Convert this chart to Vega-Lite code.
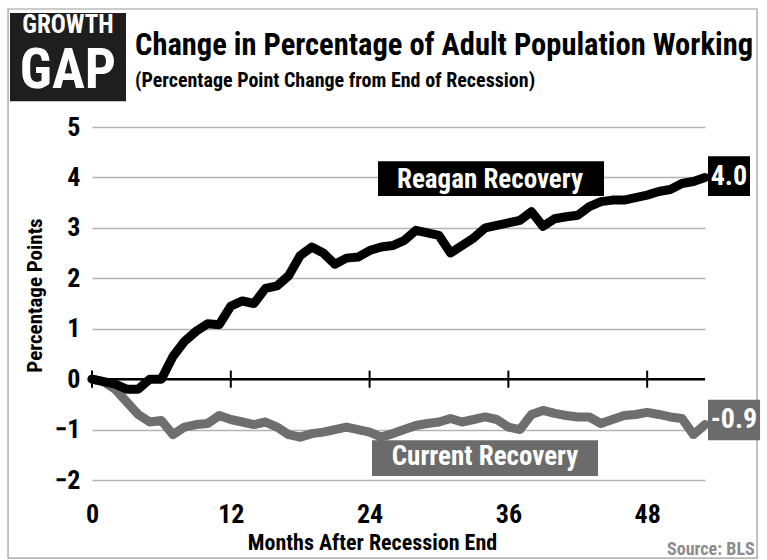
{
  "$schema": "https://vega.github.io/schema/vega-lite/v6.json",
  "width": 613,
  "height": 353,
  "autosize": {"type": "none"},
  "padding": {"left": 92, "top": 127, "right": 62, "bottom": 80},
  "background": "white",
  "data": {"values": [{}]},
  "config": {
    "view": {"stroke": null},
    "font": "'Roboto Condensed', 'DejaVu Sans Condensed', 'Liberation Sans', sans-serif",
    "text": {"font": "'Roboto Condensed', 'DejaVu Sans Condensed', 'Liberation Sans', sans-serif", "fontWeight": "bold"}
  },
  "datasets": {
    "series": [
      {"month": 0, "value": 0.0, "series": "Current Recovery"},
      {"month": 1, "value": -0.05, "series": "Current Recovery"},
      {"month": 2, "value": -0.2, "series": "Current Recovery"},
      {"month": 3, "value": -0.45, "series": "Current Recovery"},
      {"month": 4, "value": -0.7, "series": "Current Recovery"},
      {"month": 5, "value": -0.85, "series": "Current Recovery"},
      {"month": 6, "value": -0.82, "series": "Current Recovery"},
      {"month": 7, "value": -1.1, "series": "Current Recovery"},
      {"month": 8, "value": -0.95, "series": "Current Recovery"},
      {"month": 9, "value": -0.9, "series": "Current Recovery"},
      {"month": 10, "value": -0.88, "series": "Current Recovery"},
      {"month": 11, "value": -0.72, "series": "Current Recovery"},
      {"month": 12, "value": -0.8, "series": "Current Recovery"},
      {"month": 13, "value": -0.85, "series": "Current Recovery"},
      {"month": 14, "value": -0.9, "series": "Current Recovery"},
      {"month": 15, "value": -0.85, "series": "Current Recovery"},
      {"month": 16, "value": -0.95, "series": "Current Recovery"},
      {"month": 17, "value": -1.1, "series": "Current Recovery"},
      {"month": 18, "value": -1.15, "series": "Current Recovery"},
      {"month": 19, "value": -1.08, "series": "Current Recovery"},
      {"month": 20, "value": -1.05, "series": "Current Recovery"},
      {"month": 21, "value": -1.0, "series": "Current Recovery"},
      {"month": 22, "value": -0.95, "series": "Current Recovery"},
      {"month": 23, "value": -1.0, "series": "Current Recovery"},
      {"month": 24, "value": -1.05, "series": "Current Recovery"},
      {"month": 25, "value": -1.15, "series": "Current Recovery"},
      {"month": 26, "value": -1.08, "series": "Current Recovery"},
      {"month": 27, "value": -1.0, "series": "Current Recovery"},
      {"month": 28, "value": -0.92, "series": "Current Recovery"},
      {"month": 29, "value": -0.88, "series": "Current Recovery"},
      {"month": 30, "value": -0.85, "series": "Current Recovery"},
      {"month": 31, "value": -0.78, "series": "Current Recovery"},
      {"month": 32, "value": -0.85, "series": "Current Recovery"},
      {"month": 33, "value": -0.8, "series": "Current Recovery"},
      {"month": 34, "value": -0.75, "series": "Current Recovery"},
      {"month": 35, "value": -0.8, "series": "Current Recovery"},
      {"month": 36, "value": -0.95, "series": "Current Recovery"},
      {"month": 37, "value": -1.0, "series": "Current Recovery"},
      {"month": 38, "value": -0.7, "series": "Current Recovery"},
      {"month": 39, "value": -0.62, "series": "Current Recovery"},
      {"month": 40, "value": -0.68, "series": "Current Recovery"},
      {"month": 41, "value": -0.72, "series": "Current Recovery"},
      {"month": 42, "value": -0.75, "series": "Current Recovery"},
      {"month": 43, "value": -0.75, "series": "Current Recovery"},
      {"month": 44, "value": -0.88, "series": "Current Recovery"},
      {"month": 45, "value": -0.8, "series": "Current Recovery"},
      {"month": 46, "value": -0.72, "series": "Current Recovery"},
      {"month": 47, "value": -0.7, "series": "Current Recovery"},
      {"month": 48, "value": -0.66, "series": "Current Recovery"},
      {"month": 49, "value": -0.7, "series": "Current Recovery"},
      {"month": 50, "value": -0.75, "series": "Current Recovery"},
      {"month": 51, "value": -0.78, "series": "Current Recovery"},
      {"month": 52, "value": -1.1, "series": "Current Recovery"},
      {"month": 53, "value": -0.9, "series": "Current Recovery"},
      {"month": 0, "value": 0.0, "series": "Reagan Recovery"},
      {"month": 1, "value": -0.05, "series": "Reagan Recovery"},
      {"month": 2, "value": -0.1, "series": "Reagan Recovery"},
      {"month": 3, "value": -0.2, "series": "Reagan Recovery"},
      {"month": 4, "value": -0.2, "series": "Reagan Recovery"},
      {"month": 5, "value": 0.0, "series": "Reagan Recovery"},
      {"month": 6, "value": 0.0, "series": "Reagan Recovery"},
      {"month": 7, "value": 0.45, "series": "Reagan Recovery"},
      {"month": 8, "value": 0.75, "series": "Reagan Recovery"},
      {"month": 9, "value": 0.95, "series": "Reagan Recovery"},
      {"month": 10, "value": 1.1, "series": "Reagan Recovery"},
      {"month": 11, "value": 1.08, "series": "Reagan Recovery"},
      {"month": 12, "value": 1.45, "series": "Reagan Recovery"},
      {"month": 13, "value": 1.55, "series": "Reagan Recovery"},
      {"month": 14, "value": 1.5, "series": "Reagan Recovery"},
      {"month": 15, "value": 1.8, "series": "Reagan Recovery"},
      {"month": 16, "value": 1.85, "series": "Reagan Recovery"},
      {"month": 17, "value": 2.05, "series": "Reagan Recovery"},
      {"month": 18, "value": 2.45, "series": "Reagan Recovery"},
      {"month": 19, "value": 2.62, "series": "Reagan Recovery"},
      {"month": 20, "value": 2.5, "series": "Reagan Recovery"},
      {"month": 21, "value": 2.28, "series": "Reagan Recovery"},
      {"month": 22, "value": 2.4, "series": "Reagan Recovery"},
      {"month": 23, "value": 2.42, "series": "Reagan Recovery"},
      {"month": 24, "value": 2.55, "series": "Reagan Recovery"},
      {"month": 25, "value": 2.62, "series": "Reagan Recovery"},
      {"month": 26, "value": 2.65, "series": "Reagan Recovery"},
      {"month": 27, "value": 2.75, "series": "Reagan Recovery"},
      {"month": 28, "value": 2.95, "series": "Reagan Recovery"},
      {"month": 29, "value": 2.9, "series": "Reagan Recovery"},
      {"month": 30, "value": 2.85, "series": "Reagan Recovery"},
      {"month": 31, "value": 2.5, "series": "Reagan Recovery"},
      {"month": 32, "value": 2.65, "series": "Reagan Recovery"},
      {"month": 33, "value": 2.8, "series": "Reagan Recovery"},
      {"month": 34, "value": 3.0, "series": "Reagan Recovery"},
      {"month": 35, "value": 3.05, "series": "Reagan Recovery"},
      {"month": 36, "value": 3.1, "series": "Reagan Recovery"},
      {"month": 37, "value": 3.15, "series": "Reagan Recovery"},
      {"month": 38, "value": 3.32, "series": "Reagan Recovery"},
      {"month": 39, "value": 3.03, "series": "Reagan Recovery"},
      {"month": 40, "value": 3.18, "series": "Reagan Recovery"},
      {"month": 41, "value": 3.22, "series": "Reagan Recovery"},
      {"month": 42, "value": 3.25, "series": "Reagan Recovery"},
      {"month": 43, "value": 3.42, "series": "Reagan Recovery"},
      {"month": 44, "value": 3.52, "series": "Reagan Recovery"},
      {"month": 45, "value": 3.55, "series": "Reagan Recovery"},
      {"month": 46, "value": 3.55, "series": "Reagan Recovery"},
      {"month": 47, "value": 3.6, "series": "Reagan Recovery"},
      {"month": 48, "value": 3.65, "series": "Reagan Recovery"},
      {"month": 49, "value": 3.72, "series": "Reagan Recovery"},
      {"month": 50, "value": 3.76, "series": "Reagan Recovery"},
      {"month": 51, "value": 3.88, "series": "Reagan Recovery"},
      {"month": 52, "value": 3.92, "series": "Reagan Recovery"},
      {"month": 53, "value": 4.0, "series": "Reagan Recovery"}
    ],
    "ticks": [
      {"month": 0}, {"month": 12}, {"month": 24}, {"month": 36}, {"month": 48}
    ]
  },
  "layer": [
    {
      "data": {"name": "series"},
      "mark": {"type": "line", "opacity": 0},
      "encoding": {
        "x": {
          "field": "month", "type": "quantitative",
          "scale": {"domain": [0, 53], "nice": false, "zero": false},
          "axis": {
            "values": [0, 12, 24, 36, 48],
            "title": "Months After Recession End",
            "grid": false, "ticks": false, "domain": false,
            "labelFontSize": 26, "labelFontWeight": "bold", "labelColor": "#000000",
            "labelPadding": 21, "labelFlush": false,
            "titleFontSize": 22, "titleFontWeight": "bold", "titleColor": "#000000",
            "titleX": 280, "titleY": 52, "titleAlign": "center", "titleBaseline": "top"
          }
        },
        "y": {
          "field": "value", "type": "quantitative",
          "scale": {"domain": [-2, 5], "nice": false, "zero": false},
          "axis": {
            "values": [-2, -1, 0, 1, 2, 3, 4, 5],
            "title": "Percentage Points",
            "grid": true, "gridColor": "#b3b3b3", "gridWidth": 1.5,
            "ticks": false, "domain": false,
            "labelFontSize": 26, "labelFontWeight": "bold", "labelColor": "#000000",
            "labelPadding": 12,
            "titleFontSize": 21, "titleFontWeight": "bold", "titleColor": "#000000",
            "titleX": -47, "titleY": 168, "titleAlign": "center", "titleBaseline": "bottom"
          }
        }
      }
    },
    {
      "mark": {"type": "rect", "fill": null, "stroke": "#9a9a9a", "strokeWidth": 1.2},
      "encoding": {
        "x": {"datum": -7.26}, "x2": {"datum": 57.5},
        "y": {"datum": 7.34}, "y2": {"datum": -3.55}
      }
    },
    {
      "mark": {"type": "rect", "fill": "#1e1e1e"},
      "encoding": {
        "x": {"datum": -7.09}, "x2": {"datum": 2.94},
        "y": {"datum": 7.26}, "y2": {"datum": 5.51}
      }
    },
    {
      "mark": {"type": "text", "color": "#ffffff", "fontSize": 25, "fontWeight": "bold", "align": "center", "baseline": "middle", "text": "GROWTH"},
      "encoding": {"x": {"datum": -2.08}, "y": {"datum": 7.02}}
    },
    {
      "mark": {"type": "text", "color": "#ffffff", "fontSize": 55, "fontWeight": "bold", "align": "center", "baseline": "middle", "text": "GAP"},
      "encoding": {"x": {"datum": -2.08}, "y": {"datum": 6.12}}
    },
    {
      "mark": {"type": "text", "color": "#000000", "fontSize": 30.5, "fontWeight": "bold", "align": "left", "baseline": "alphabetic", "text": "Change in Percentage of Adult Population Working"},
      "encoding": {"x": {"datum": 3.72}, "y": {"datum": 6.43}}
    },
    {
      "mark": {"type": "text", "color": "#000000", "fontSize": 20, "fontWeight": "bold", "align": "left", "baseline": "alphabetic", "text": "(Percentage Point Change from End of Recession)"},
      "encoding": {"x": {"datum": 3.72}, "y": {"datum": 5.8}}
    },
    {
      "mark": {"type": "rule", "color": "#000000", "strokeWidth": 2.5},
      "encoding": {"y": {"datum": 0}}
    },
    {
      "data": {"name": "ticks"},
      "mark": {"type": "rule", "color": "#000000", "strokeWidth": 2},
      "encoding": {
        "x": {"field": "month", "type": "quantitative"},
        "y": {"datum": 0.17}, "y2": {"datum": -0.17}
      }
    },
    {
      "data": {"name": "series"},
      "mark": {"type": "line", "strokeWidth": 9, "strokeJoin": "round", "strokeCap": "round"},
      "encoding": {
        "x": {"field": "month", "type": "quantitative"},
        "y": {"field": "value", "type": "quantitative"},
        "order": {"field": "month"},
        "color": {
          "field": "series", "type": "nominal",
          "scale": {"domain": ["Current Recovery", "Reagan Recovery"], "range": ["#6e6e6e", "#000000"]},
          "legend": null
        }
      }
    },
    {
      "mark": {"type": "rect", "fill": "#000000"},
      "encoding": {"x": {"datum": 24.73}, "x2": {"datum": 44.27}, "y": {"datum": 4.32}, "y2": {"datum": 3.63}}
    },
    {
      "mark": {"type": "text", "color": "#ffffff", "fontSize": 27, "align": "center", "baseline": "middle", "text": "Reagan Recovery"},
      "encoding": {"x": {"datum": 34.41}, "y": {"datum": 3.95}}
    },
    {
      "mark": {"type": "rect", "fill": "#000000"},
      "encoding": {"x": {"datum": 53.26}, "x2": {"datum": 56.89}, "y": {"datum": 4.42}, "y2": {"datum": 3.63}}
    },
    {
      "mark": {"type": "text", "color": "#ffffff", "fontSize": 28, "align": "center", "baseline": "middle", "text": "4.0"},
      "encoding": {"x": {"datum": 55.07}, "y": {"datum": 4.01}}
    },
    {
      "mark": {"type": "rect", "fill": "#6b6b6b"},
      "encoding": {"x": {"datum": 24.21}, "x2": {"datum": 43.75}, "y": {"datum": -1.21}, "y2": {"datum": -1.92}}
    },
    {
      "mark": {"type": "text", "color": "#ffffff", "fontSize": 27, "align": "center", "baseline": "middle", "text": "Current Recovery"},
      "encoding": {"x": {"datum": 33.98}, "y": {"datum": -1.55}}
    },
    {
      "mark": {"type": "rect", "fill": "#6b6b6b"},
      "encoding": {"x": {"datum": 53.26}, "x2": {"datum": 57.76}, "y": {"datum": -0.41}, "y2": {"datum": -1.21}}
    },
    {
      "mark": {"type": "text", "color": "#ffffff", "fontSize": 28, "align": "center", "baseline": "middle", "text": "-0.9"},
      "encoding": {"x": {"datum": 55.5}, "y": {"datum": -0.81}}
    },
    {
      "mark": {"type": "text", "color": "#8c8c8c", "fontSize": 18, "align": "right", "baseline": "middle", "text": "Source:  BLS"},
      "encoding": {"x": {"datum": 57.3}, "y": {"datum": -3.38}}
    }
  ]
}
